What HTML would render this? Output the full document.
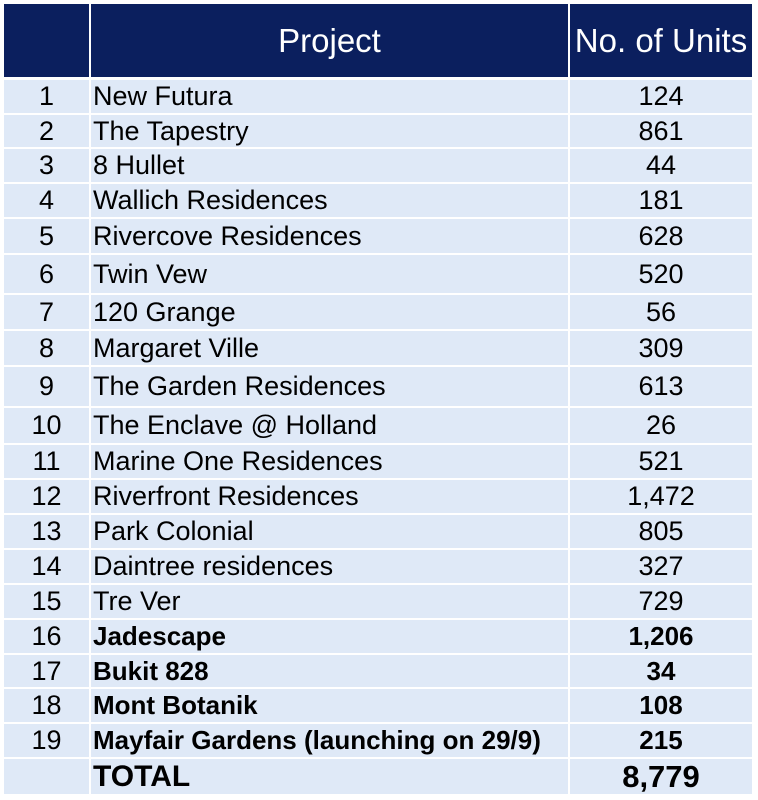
<!DOCTYPE html>
<html><head><meta charset="utf-8"><style>
body{margin:0;width:758px;height:800px;background:#fff;position:relative;overflow:hidden;font-family:"Liberation Sans",Arial,sans-serif;}
.c{position:absolute;background:#dfe9f7;color:#000;font-size:27px;display:flex;align-items:center;box-sizing:border-box;white-space:nowrap}
.h{background:#0b1f5e;color:#fff;font-size:33px;justify-content:center}
.n{justify-content:center}
.p{padding-left:2px}
.b{font-weight:bold;font-size:26px}
</style></head><body>
<div id="t"></div>
<script>
const names=["New Futura","The Tapestry","8 Hullet","Wallich Residences","Rivercove Residences","Twin Vew","120 Grange","Margaret Ville","The Garden Residences","The Enclave @ Holland","Marine One Residences","Riverfront Residences","Park Colonial","Daintree residences","Tre Ver","Jadescape","Bukit 828","Mont Botanik","Mayfair Gardens (launching on 29/9)"];
const units=["124","861","44","181","628","520","56","309","613","26","521","1,472","805","327","729","1,206","34","108","215"];
const bounds=[79,114,148,183,218,254,294,330,366,407,444,479,514,549,584,619,654,688,723,758,795];
const cols=[[4,89],[91,568],[570,752]];
const t=document.getElementById('t');
function cell(x0,x1,y0,y1,txt,cls,name){
 const d=document.createElement('div');
 d.className='c '+cls;
 d.style.left=x0+'px';d.style.width=(x1-x0)+'px';d.style.top=y0+'px';d.style.height=(y1-y0)+'px';
 d.textContent=txt;
 
 
 t.appendChild(d);
 return d;
}
cell(cols[0][0],cols[0][1],4,77,'','h','header-index');
cell(cols[1][0],cols[1][1],4,77,'Project','h','header-project');
cell(cols[2][0],cols[2][1],4,77,'No. of Units','h','header-units');
for(let i=0;i<20;i++){
 const y0=bounds[i]+1,y1=bounds[i+1]-1;
 const bold=i>=15?' b':'';
 if(i<19){
  cell(cols[0][0],cols[0][1],y0,y1,String(i+1),'n','row-index');
  cell(cols[1][0],cols[1][1],y0,y1,names[i],'p'+bold,'project-name');
  cell(cols[2][0],cols[2][1],y0,y1,units[i],'n'+bold,'unit-count');
 }else{
  cell(cols[0][0],cols[0][1],y0,y1,'','n','total-index');
  const a=cell(cols[1][0],cols[1][1],y0,y1,'TOTAL','p b','total-label');
  const d=cell(cols[2][0],cols[2][1],y0,y1,'8,779','n b','total-units');
  a.style.fontSize='30px';d.style.fontSize='31px';
 }
}
</script>
</body></html>
